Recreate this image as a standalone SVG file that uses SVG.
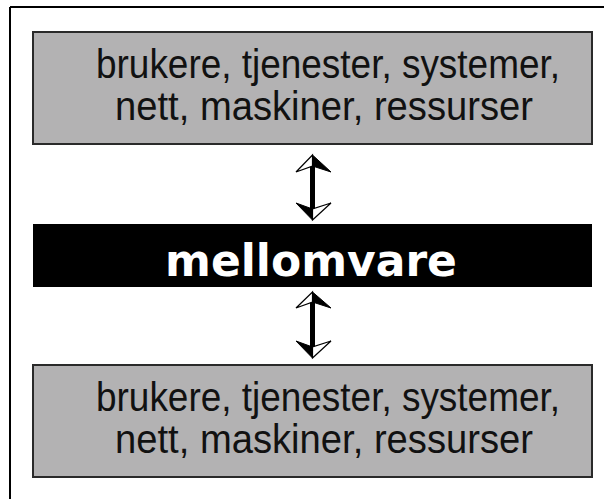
<svg xmlns="http://www.w3.org/2000/svg" width="604" height="499" viewBox="0 0 604 499">
  <style>
    .layer { fill: #b3b2b3; stroke: #2a2a2a; stroke-width: 2; }
    .core { fill: #000; }
    .hand { font-family: "Liberation Sans", Arial, sans-serif; font-size: 40px; fill: #111; }
    .core-label { font-family: "DejaVu Sans", sans-serif; font-weight: bold; font-size: 44px; fill: #fff; text-anchor: middle; }
    .shaft { fill: #000; }
    .head-dark { fill: #000; stroke: #000; stroke-width: 1; stroke-linejoin: miter; }
    .head-light { fill: #fff; stroke: #000; stroke-width: 1.2; stroke-linejoin: miter; }
  </style>

  <!-- frame -->
  <g id="frame" fill="none" stroke="#000" stroke-width="2">
    <line x1="10" y1="7" x2="604" y2="7"/>
    <line x1="10" y1="7" x2="10" y2="499"/>
  </g>

  <g id="top-layer">
    <rect class="layer" x="33" y="32" width="559" height="112"/>
    <text class="hand" x="96" y="78" textLength="464" lengthAdjust="spacingAndGlyphs">brukere, tjenester, systemer,</text>
    <text class="hand" x="115" y="120" textLength="418" lengthAdjust="spacingAndGlyphs">nett, maskiner, ressurser</text>
  </g>

  <g id="middleware">
    <rect class="core" x="33" y="224" width="559" height="63"/>
    <text class="core-label" x="311" y="276">mellomvare</text>
  </g>

  <g id="bottom-layer">
    <rect class="layer" x="33" y="365" width="559" height="112"/>
    <text class="hand" x="96" y="411" textLength="464" lengthAdjust="spacingAndGlyphs">brukere, tjenester, systemer,</text>
    <text class="hand" x="115" y="453" textLength="418" lengthAdjust="spacingAndGlyphs">nett, maskiner, ressurser</text>
  </g>

  <g id="connectors">
    <!-- upper double arrow -->
    <g id="arrow-upper">
      <rect class="shaft" x="310" y="165" width="5" height="45"/>
      <polygon class="head-light" points="312.5,155 296,172 312.5,166"/>
      <polygon class="head-dark" points="312.5,155 331,172 312.5,166"/>
      <polygon class="head-dark" points="312.5,220 296,203 312.5,209"/>
      <polygon class="head-light" points="312.5,220 331,203 312.5,209"/>
    </g>
    <!-- lower double arrow -->
    <g id="arrow-lower">
      <rect class="shaft" x="310" y="301" width="5" height="46"/>
      <polygon class="head-light" points="312.5,292 296,308 312.5,302"/>
      <polygon class="head-dark" points="312.5,292 331,308 312.5,302"/>
      <polygon class="head-dark" points="312.5,358 296,341 312.5,347"/>
      <polygon class="head-light" points="312.5,358 331,341 312.5,347"/>
    </g>
  </g>
</svg>
